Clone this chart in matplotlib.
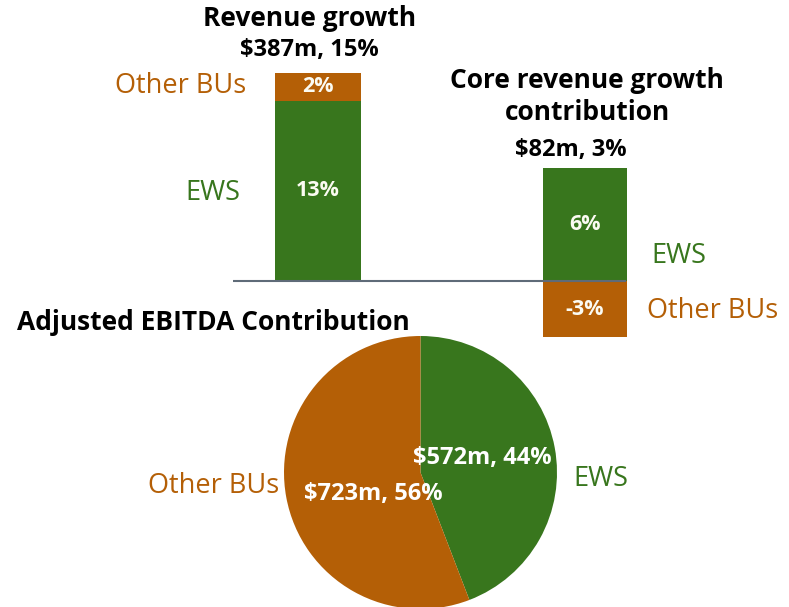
import matplotlib.pyplot as plt

GREEN = "#38761d"
ORANGE = "#b45f06"
W, H = 789, 607

plt.rcParams['font.family'] = ['Open Sans', 'DejaVu Sans']

# bar data (percent of revenue growth)
bar_groups = ["Revenue growth", "Core revenue growth"]
ews_growth = [13, 6]
other_growth = [2, -3]
bar_totals = ["$387m, 15%", "$82m, 3%"]

# pie data
pie_labels = ["EWS", "Other BUs"]
pie_values = [572, 723]
pie_text = ["$572m, 44%", "$723m, 56%"]

TITLE_FS = 19
SUB_FS = 17
LABEL_FS = 19.5
VALUE_FS = 15.5
PIE_FS = 17


def box(x0, y0, x1, y1):
    # pixel box (top-left origin) -> figure fraction rect
    return [x0 / W, 1 - y1 / H, (x1 - x0) / W, (y1 - y0) / H]


def ftext(x, y, s, **kw):
    fig.text(x / W, 1 - y / H, s, ha=kw.pop('ha', 'center'), va=kw.pop('va', 'center'), **kw)


fig = plt.figure(figsize=(W / 100, H / 100), dpi=100)

# left bar uses its own scale, right bar another one; both share the zero line
ax1 = fig.add_axes(box(233, 59, 626, 281))
ax1.set_xlim(-0.318, 1.154)
ax1.set_ylim(0, 16)
ax2 = fig.add_axes(box(233, 159, 626, 341))
ax2.set_xlim(-0.318, 1.154)
ax2.set_ylim(-3.2, 6.5)
for a in (ax1, ax2):
    a.axis('off')
    a.patch.set_alpha(0)

bw = 0.325
vkw = dict(color="#fbfbf2", weight="bold", fontsize=VALUE_FS, ha="center", va="center")
ax1.bar(0, ews_growth[0], width=bw, color=GREEN)
ax1.bar(0, other_growth[0], bottom=ews_growth[0], width=bw, color=ORANGE)
ax1.text(0, ews_growth[0] / 2, f"{ews_growth[0]}%", **vkw)
ax1.text(0, ews_growth[0] + other_growth[0] / 2, f"{other_growth[0]}%", **vkw)

ax2.bar(1, ews_growth[1], width=bw * 0.96, color=GREEN, clip_on=False)
ax2.bar(1, other_growth[1], width=bw * 0.96, color=ORANGE, clip_on=False)
ax2.text(1, ews_growth[1] / 2, f"{ews_growth[1]}%", **vkw)
ax2.text(1, other_growth[1] / 2, f"{other_growth[1]}%", **vkw)
ax2.axhline(0, color="#5f6b78", lw=1.5, zorder=5)

# titles and labels around the bars
ftext(310, 18, bar_groups[0], weight="bold", fontsize=TITLE_FS)
ftext(309, 50, bar_totals[0], weight="bold", fontsize=SUB_FS)
ftext(181, 86, "Other BUs", color=ORANGE, fontsize=LABEL_FS)
ftext(213, 193, "EWS", color=GREEN, fontsize=LABEL_FS)
ftext(587, 80, bar_groups[1], weight="bold", fontsize=TITLE_FS)
ftext(587, 112, "contribution", weight="bold", fontsize=TITLE_FS)
ftext(571, 150, bar_totals[1], weight="bold", fontsize=SUB_FS)
ftext(679, 256, "EWS", color=GREEN, fontsize=LABEL_FS)
ftext(713, 311, "Other BUs", color=ORANGE, fontsize=LABEL_FS)

# pie
ftext(17, 322, "Adjusted EBITDA Contribution", weight="bold", fontsize=TITLE_FS, ha="left")
axp = fig.add_axes(box(284, 336, 557, 609))
axp.pie(pie_values, colors=[GREEN, ORANGE], startangle=90, counterclock=False,
        radius=1, wedgeprops=dict(linewidth=0))
axp.set_xlim(-1, 1)
axp.set_ylim(-1, 1)
axp.set_aspect('equal')
ftext(482, 458, pie_text[0], color="white", weight="bold", fontsize=PIE_FS)
ftext(373, 494, pie_text[1], color="white", weight="bold", fontsize=PIE_FS)
ftext(601, 479, pie_labels[0], color=GREEN, fontsize=LABEL_FS)
ftext(214, 486, pie_labels[1], color=ORANGE, fontsize=LABEL_FS)

fig.savefig("out.png", dpi=100)
